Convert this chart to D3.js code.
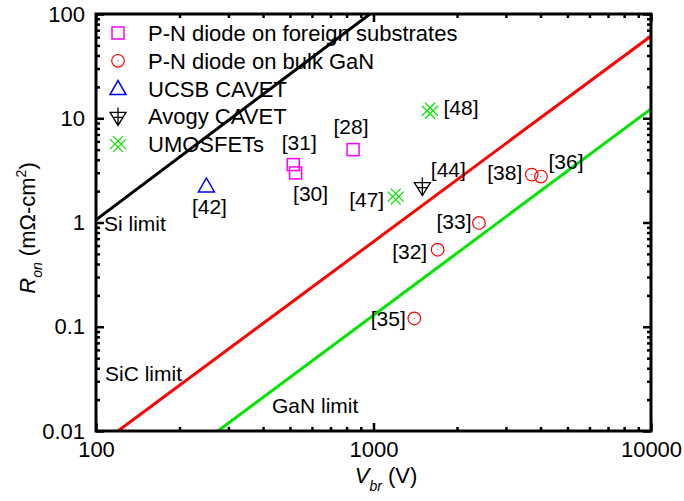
<html>
<head>
<meta charset="utf-8">
<script src="https://cdn.jsdelivr.net/npm/d3@7"></script>
<style>
  body { margin: 0; background: #fff; }
  text { font-family: "Liberation Sans", Arial, sans-serif; fill: #000; }
</style>
</head>
<body>
<div id="container"></div>
<script>
// ---- data ----
const xTicks = [100, 1000, 10000];
const yTicks = [0.01, 0.1, 1, 10, 100];
const yTickLabels = ["0.01", "0.1", "1", "10", "100"];

// theoretical limit lines (end points)
const siV = [100, 971], siR = [1.06, 100];
const sicV = [120, 10000], sicR = [0.01, 61.5];
const ganV = [275, 10000], ganR = [0.01, 12.3];

// devices
const foreignV = [514, 524, 844], foreignR = [3.59, 2.99, 5.0], foreignRef = ["[31]", "[30]", "[28]"];
const bulkV = [3717, 4014, 2399, 1703, 1403], bulkR = [2.88, 2.76, 0.99, 0.548, 0.12], bulkRef = ["[38]", "[36]", "[33]", "[32]", "[35]"];
const ucsbV = [250], ucsbR = [2.24], ucsbRef = ["[42]"];
const avogyV = [1500], avogyR = [2.21], avogyRef = ["[44]"];
const umosV = [1202, 1598], umosR = [1.77, 11.8], umosRef = ["[47]", "[48]"];

const legendNames = ["P-N diode on foreign substrates", "P-N diode on bulk GaN", "UCSB CAVET", "Avogy CAVET", "UMOSFETs"];

// label placement (pixel offsets from marker)
const labelOff = {
  "[31]": [6, -15], "[30]": [15, 28], "[28]": [-2, -16], "[42]": [3, 28],
  "[44]": [26, -10], "[47]": [-29, 10], "[48]": [31, 4],
  "[38]": [-27, 5], "[36]": [25, -8], "[33]": [-25, 6], "[32]": [-28, 9], "[35]": [-26, 8]
};

const W = 684, H = 501;
const L = 96, R = 651, T = 14, B = 431;
const GREEN = "#00e400";

const svg = d3.select("#container").append("svg").attr("width", W).attr("height", H);

const x = d3.scaleLog().domain([100, 10000]).range([L, R]);
const y = d3.scaleLog().domain([0.01, 100]).range([B, T]);

const minorX = [];
[100, 1000].forEach(d => { for (let k = 2; k <= 9; k++) minorX.push(d * k); });
const minorY = [];
[0.01, 0.1, 1, 10].forEach(d => { for (let k = 2; k <= 9; k++) minorY.push(d * k); });

function cleanAxis(g) { g.select(".domain").remove(); g.selectAll("line").attr("stroke", "#000").attr("stroke-width", 2.5); }

// minor ticks (all four sides)
svg.append("g").attr("transform", `translate(0,${B})`)
  .call(d3.axisBottom(x).tickValues(minorX).tickSize(-4).tickFormat("")).call(cleanAxis);
svg.append("g").attr("transform", `translate(0,${T})`)
  .call(d3.axisTop(x).tickValues(minorX).tickSize(-4).tickFormat("")).call(cleanAxis);
svg.append("g").attr("transform", `translate(${L},0)`)
  .call(d3.axisLeft(y).tickValues(minorY).tickSize(-4).tickFormat("")).call(cleanAxis);
svg.append("g").attr("transform", `translate(${R},0)`)
  .call(d3.axisRight(y).tickValues(minorY).tickSize(-4).tickFormat("")).call(cleanAxis);

// major ticks + labels
const xAx = svg.append("g").attr("transform", `translate(0,${B})`)
  .call(d3.axisBottom(x).tickValues(xTicks).tickSize(-8).tickPadding(10).tickFormat(d3.format("d"))).call(cleanAxis);
xAx.selectAll("text").attr("font-size", 22).attr("font-family", "Liberation Sans, Arial").attr("fill", "#000");
svg.append("g").attr("transform", `translate(0,${T})`)
  .call(d3.axisTop(x).tickValues(xTicks).tickSize(-8).tickFormat("")).call(cleanAxis);
const yAx = svg.append("g").attr("transform", `translate(${L},0)`)
  .call(d3.axisLeft(y).tickValues(yTicks).tickSize(-8).tickPadding(11).tickFormat((d, i) => yTickLabels[i])).call(cleanAxis);
yAx.selectAll("text").attr("font-size", 22).attr("font-family", "Liberation Sans, Arial").attr("fill", "#000");
svg.append("g").attr("transform", `translate(${R},0)`)
  .call(d3.axisRight(y).tickValues(yTicks).tickSize(-8).tickFormat("")).call(cleanAxis);

// clip region
svg.append("clipPath").attr("id", "plotclip").append("rect")
  .attr("x", L).attr("y", T).attr("width", R - L).attr("height", B - T);

const plot = svg.append("g").attr("clip-path", "url(#plotclip)");
const lineGen = d3.line().x(d => x(d[0])).y(d => y(d[1]));
[[siV, siR, "#000"], [sicV, sicR, "#ff0000"], [ganV, ganR, GREEN]].forEach(([vs, rs, c]) => {
  plot.append("path").attr("d", lineGen(d3.zip(vs, rs)))
    .attr("fill", "none").attr("stroke", c).attr("stroke-width", 3);
});

// frame
svg.append("rect").attr("x", L).attr("y", T).attr("width", R - L).attr("height", B - T)
  .attr("fill", "none").attr("stroke", "#000").attr("stroke-width", 3);

// line labels
const lbl = svg.append("g").attr("font-size", 21);
lbl.append("text").attr("x", 104).attr("y", 231).text("Si limit");
lbl.append("text").attr("x", 105).attr("y", 381).text("SiC limit");
lbl.append("text").attr("x", 272).attr("y", 413).text("GaN limit");

// marker drawing
function drawMarker(g, type) {
  if (type === "square") {
    g.append("rect").attr("x", -6).attr("y", -6).attr("width", 12).attr("height", 12)
      .attr("fill", "none").attr("stroke", "#ff00ff").attr("stroke-width", 1.5);
  } else if (type === "circle") {
    g.append("circle").attr("r", 6.3).attr("fill", "none").attr("stroke", "#ff0000").attr("stroke-width", 1.2);
    g.append("circle").attr("r", 0.6).attr("fill", "#ff0000");
  } else if (type === "triangle") {
    g.append("path").attr("d", "M-8,6L8,6L0,-8Z").attr("fill", "none").attr("stroke", "#0000ff").attr("stroke-width", 1.5);
  } else if (type === "avogy") {
    g.append("path").attr("d", "M-8,-4L8,-4L0,9Z M0,-9L0,9 M-5,1L5,1")
      .attr("fill", "none").attr("stroke", "#000").attr("stroke-width", 1.3);
  } else if (type === "umos") {
    g.append("path").attr("d", "M-8,-5L5,8 M-5,-8L8,5 M-8,5L5,-8 M-5,8L8,-5")
      .attr("fill", "none").attr("stroke", GREEN).attr("stroke-width", 1.2);
  }
}

const series = [
  [foreignV, foreignR, foreignRef, "square"],
  [bulkV, bulkR, bulkRef, "circle"],
  [ucsbV, ucsbR, ucsbRef, "triangle"],
  [avogyV, avogyR, avogyRef, "avogy"],
  [umosV, umosR, umosRef, "umos"]
];

series.forEach(([vs, rs, refs, type]) => {
  vs.forEach((v, i) => {
    const px = x(v), py = y(rs[i]);
    const g = svg.append("g").attr("transform", `translate(${px},${py})`);
    drawMarker(g, type);
    const off = labelOff[refs[i]];
    svg.append("text").attr("x", px + off[0]).attr("y", py + off[1])
      .attr("text-anchor", "middle").attr("font-size", 21).text(refs[i]);
  });
});

// legend
const legend = svg.append("g");
legendNames.forEach((name, i) => {
  const ry = 33 + i * 27.8;
  const g = legend.append("g").attr("transform", `translate(118,${ry})`);
  drawMarker(g, series[i][3]);
  legend.append("text").attr("x", 148).attr("y", ry + 8).attr("font-size", 22).text(name);
});

// axis titles
const xt = svg.append("text").attr("x", 386).attr("y", 483).attr("text-anchor", "middle").attr("font-size", 22);
xt.append("tspan").attr("font-style", "italic").text("V");
xt.append("tspan").attr("font-style", "italic").attr("font-size", 14).attr("dy", 8).text("br");
xt.append("tspan").attr("dy", -8).text(" (V)");

const yt = svg.append("text").attr("transform", "translate(35,228) rotate(-90)").attr("text-anchor", "middle").attr("font-size", 22);
yt.append("tspan").attr("font-style", "italic").text("R");
yt.append("tspan").attr("font-style", "italic").attr("font-size", 14).attr("dy", 7).text("on");
yt.append("tspan").attr("dy", -7).text(" (m\u03A9-cm");
yt.append("tspan").attr("font-size", 14).attr("dy", -9).text("2");
yt.append("tspan").attr("dy", 9).text(")");
</script>
</body>
</html>
